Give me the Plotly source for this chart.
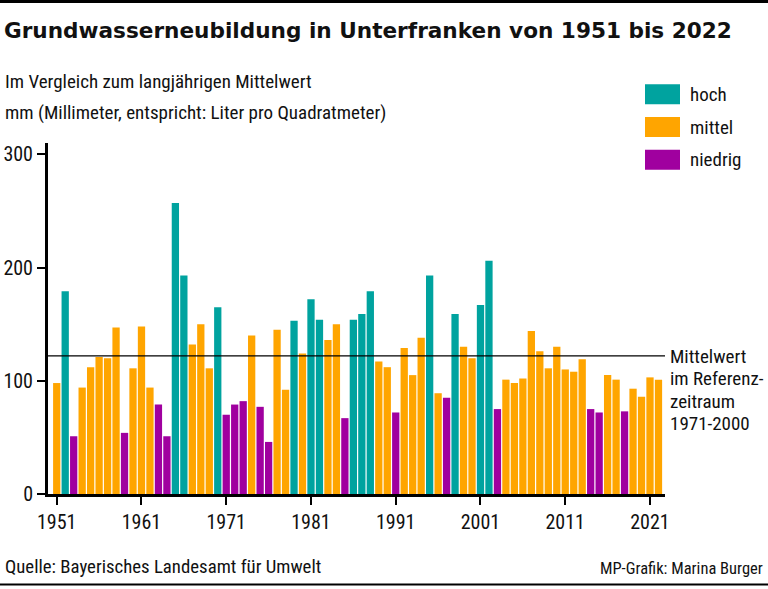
import plotly.graph_objects as go

years = list(range(1951, 2023))
values = [98, 179, 51, 94, 112, 121, 120, 147, 54, 111,
          148, 94, 79, 51, 257, 193, 132, 150, 111, 165,
          70, 79, 82, 140, 77, 46, 145, 92, 153, 124,
          172, 154, 136, 150, 67, 154, 159, 179, 117, 112,
          72, 129, 105, 138, 193, 89, 85, 159, 130, 120,
          167, 206, 75, 101, 98, 102, 144, 126, 111, 130,
          110, 108, 119, 75, 72, 105, 101, 73, 93, 86,
          103, 101]
category = list("mhnmmmmmnm" "mmnnhhmmmh" "nnnmnnmmhm" "hhmmnhhhmm"
                "nmmmhmnhmm" "hhnmmmmmmm" "mmmnnmmnmm" "mm")
cat_names = {"h": "hoch", "m": "mittel", "n": "niedrig"}
cat_colors = {"h": "#00a39f", "m": "#ffa500", "n": "#a0009f"}
mean_ref = 122
mean_label = ["Mittelwert", "im Referenz-", "zeitraum", "1971-2000"]
x_ticks = [1951, 1961, 1971, 1981, 1991, 2001, 2011, 2021]
y_ticks = [0, 100, 200, 300]

W, H = 768, 589
L, R, T, B = 48, 665, 143, 494
FONT = "Roboto Condensed, Roboto, sans-serif"
TITLE_FONT = "DejaVu Sans, Roboto, sans-serif"
INK = "#111111"


def px_x(x):
    return (x - L) / (R - L)


def px_y(y):
    return (B - y) / (B - T)


fig = go.Figure()
for c in ["h", "m", "n"]:
    xs = [y for y, k in zip(years, category) if k == c]
    vs = [v for v, k in zip(values, category) if k == c]
    fig.add_trace(go.Bar(x=xs, y=vs, name=cat_names[c], marker_color=cat_colors[c],
                         marker_line_width=0, width=0.86, showlegend=False, hoverinfo="x+y"))

shapes = []
shapes.append(dict(type="line", xref="paper", yref="y", x0=0, x1=1, y0=mean_ref, y1=mean_ref,
                   line=dict(color="black", width=1.3)))
shapes.append(dict(type="line", xref="paper", yref="paper", x0=px_x(0), x1=px_x(W),
                   y0=px_y(1.5), y1=px_y(1.5), line=dict(color="black", width=3)))
shapes.append(dict(type="line", xref="paper", yref="paper", x0=px_x(0), x1=px_x(W),
                   y0=px_y(584.5), y1=px_y(584.5), line=dict(color="black", width=2)))

annotations = []
for i, c in enumerate(["h", "m", "n"]):
    yc = 94.3 + i * 32.7
    shapes.append(dict(type="rect", xref="paper", yref="paper",
                       x0=px_x(645), x1=px_x(680), y0=px_y(yc - 10), y1=px_y(yc + 10),
                       fillcolor=cat_colors[c], line_width=0))
    annotations.append(dict(xref="paper", yref="paper", x=px_x(688), y=px_y(yc),
                            text=cat_names[c], showarrow=False, xanchor="left", yanchor="middle",
                            font=dict(size=19, color=INK)))

for i, line in enumerate(mean_label):
    annotations.append(dict(xref="paper", yref="paper", x=px_x(668), y=px_y(356 + i * 22.6),
                            text=line, showarrow=False, xanchor="left", yanchor="middle",
                            font=dict(size=19, color=INK)))

annotations += [
    dict(xref="paper", yref="paper", x=px_x(2), y=px_y(31),
         text="<b>Grundwasserneubildung in Unterfranken von 1951 bis 2022</b>",
         showarrow=False, xanchor="left", yanchor="middle",
         font=dict(family=TITLE_FONT, size=21.6, color=INK)),
    dict(xref="paper", yref="paper", x=px_x(3), y=px_y(81),
         text="Im Vergleich zum langjährigen Mittelwert",
         showarrow=False, xanchor="left", yanchor="middle", font=dict(size=19, color=INK)),
    dict(xref="paper", yref="paper", x=px_x(3), y=px_y(112),
         text="mm (Millimeter, entspricht: Liter pro Quadratmeter)",
         showarrow=False, xanchor="left", yanchor="middle", font=dict(size=19, color=INK)),
    dict(xref="paper", yref="paper", x=px_x(3), y=px_y(567),
         text="Quelle: Bayerisches Landesamt für Umwelt",
         showarrow=False, xanchor="left", yanchor="middle", font=dict(size=18.8, color=INK)),
    dict(xref="paper", yref="paper", x=px_x(765), y=px_y(568),
         text="MP-Grafik: Marina Burger",
         showarrow=False, xanchor="right", yanchor="middle", font=dict(size=16.5, color=INK)),
]

fig.update_layout(
    width=W, height=H,
    margin=dict(l=L, r=W - R, t=T, b=H - B, pad=0, autoexpand=False),
    paper_bgcolor="white", plot_bgcolor="white",
    barmode="overlay",
    font=dict(family=FONT, size=19, color=INK),
    shapes=shapes, annotations=annotations,
    xaxis=dict(range=[1949.97, 2022.77], tickvals=x_ticks, ticktext=[str(t) for t in x_ticks],
               automargin=False,
               showgrid=False, zeroline=False, showline=True, linecolor="black", linewidth=3,
               ticks="outside", ticklen=8, tickwidth=2, tickcolor="black",
               tickfont=dict(size=20, color=INK)),
    yaxis=dict(range=[0, 310], tickvals=y_ticks, ticktext=[str(t) for t in y_ticks],
               automargin=False,
               showgrid=False, zeroline=False, showline=True, linecolor="black", linewidth=3,
               ticks="outside", ticklen=8, tickwidth=2, tickcolor="black",
               tickfont=dict(size=20, color=INK)),
)

fig.write_html("out.html", config={"displayModeBar": False},
               post_script="document.body.style.margin='0';")
